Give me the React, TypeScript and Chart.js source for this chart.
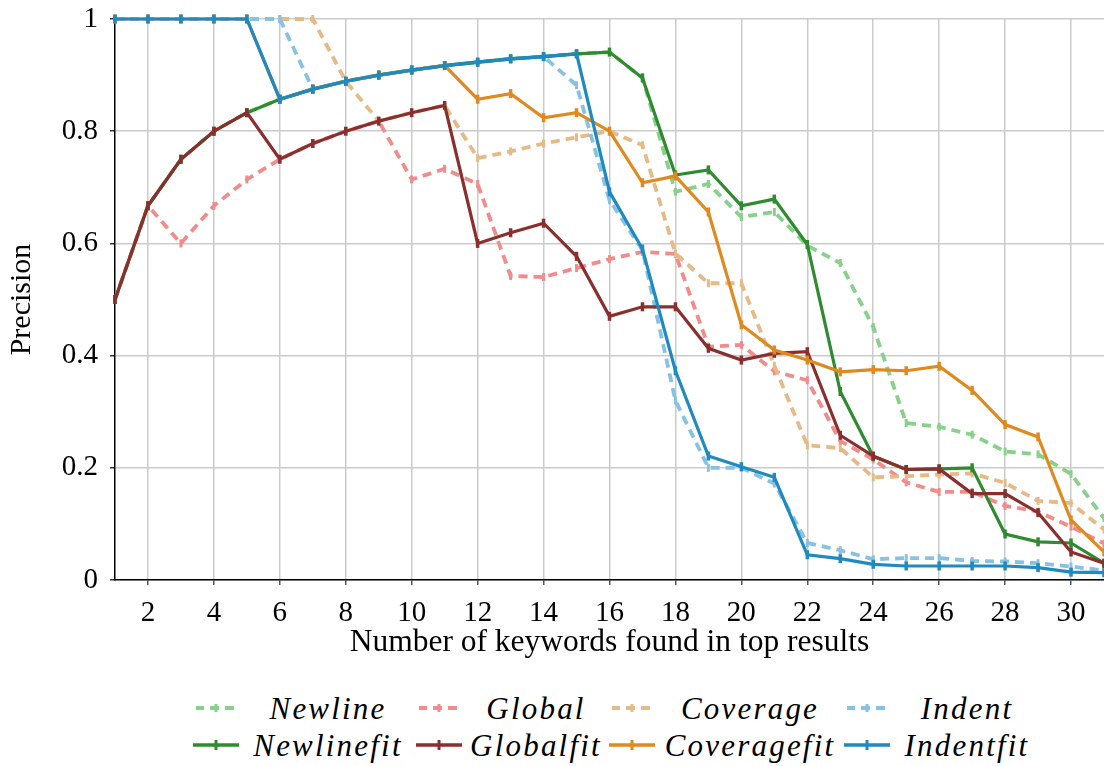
import React, { useEffect, useRef } from "react";
import { Chart, registerables } from "chart.js";

Chart.register(...registerables);

// Number of keywords found (x) and precision values for each method
const keywords = [1, 2, 3, 4, 5, 6, 7, 8, 9, 10, 11, 12, 13, 14, 15, 16, 17, 18, 19, 20, 21, 22, 23, 24, 25, 26, 27, 28, 29, 30, 31];
const xTicks = [2, 4, 6, 8, 10, 12, 14, 16, 18, 20, 22, 24, 26, 28, 30];
const yTicks = [0, 0.2, 0.4, 0.6, 0.8, 1];

const newline = [0.5, 0.667, 0.75, 0.8, 0.833, 0.857, 0.875, 0.889, 0.9, 0.909, 0.917, 0.923, 0.929, 0.933, 0.938, 0.941, 0.895, 0.692, 0.706, 0.647, 0.656, 0.596, 0.565, 0.451, 0.28, 0.273, 0.259, 0.229, 0.224, 0.189, 0.11];
const global = [0.5, 0.667, 0.6, 0.667, 0.714, 0.75, 0.778, 0.8, 0.818, 0.714, 0.733, 0.706, 0.542, 0.54, 0.556, 0.572, 0.585, 0.581, 0.416, 0.419, 0.372, 0.356, 0.248, 0.215, 0.174, 0.157, 0.157, 0.132, 0.122, 0.095, 0.065];
const coverage = [1, 1, 1, 1, 1, 1, 1, 0.889, 0.818, 0.833, 0.846, 0.752, 0.764, 0.778, 0.789, 0.8, 0.775, 0.582, 0.529, 0.529, 0.382, 0.24, 0.235, 0.183, 0.185, 0.188, 0.19, 0.173, 0.141, 0.137, 0.09];
const indent = [1, 1, 1, 1, 1, 1, 0.875, 0.889, 0.9, 0.909, 0.917, 0.923, 0.929, 0.933, 0.882, 0.677, 0.588, 0.32, 0.2, 0.2, 0.172, 0.066, 0.053, 0.037, 0.039, 0.039, 0.034, 0.033, 0.03, 0.024, 0.017];
const newlineFit = [0.5, 0.667, 0.75, 0.8, 0.833, 0.857, 0.875, 0.889, 0.9, 0.909, 0.917, 0.923, 0.929, 0.933, 0.938, 0.941, 0.895, 0.722, 0.731, 0.667, 0.679, 0.598, 0.336, 0.22, 0.197, 0.198, 0.2, 0.082, 0.068, 0.066, 0.03];
const globalFit = [0.5, 0.667, 0.75, 0.8, 0.833, 0.75, 0.778, 0.8, 0.818, 0.833, 0.846, 0.6, 0.619, 0.636, 0.577, 0.47, 0.487, 0.487, 0.413, 0.392, 0.404, 0.407, 0.258, 0.221, 0.197, 0.198, 0.154, 0.154, 0.12, 0.05, 0.03];
const coverageFit = [1, 1, 1, 1, 1, 0.857, 0.875, 0.889, 0.9, 0.909, 0.917, 0.857, 0.867, 0.824, 0.833, 0.8, 0.708, 0.72, 0.656, 0.455, 0.41, 0.392, 0.371, 0.375, 0.373, 0.381, 0.338, 0.277, 0.255, 0.107, 0.05];
const indentFit = [1, 1, 1, 1, 1, 0.857, 0.875, 0.889, 0.9, 0.909, 0.917, 0.923, 0.929, 0.933, 0.938, 0.692, 0.59, 0.373, 0.221, 0.202, 0.183, 0.045, 0.038, 0.028, 0.025, 0.025, 0.025, 0.025, 0.022, 0.014, 0.013];

const FONT = '"Liberation Serif", "Times New Roman", serif';
const GRID = "#cbcbcb";

type Series = { label: string; values: number[]; color: string; dashed: boolean };

// Drawn in this order: later series sit on top
const series: Series[] = [
  { label: "Newline", values: newline, color: "#88d18b", dashed: true },
  { label: "Global", values: global, color: "#f28b8b", dashed: true },
  { label: "Coverage", values: coverage, color: "#e5ba87", dashed: true },
  { label: "Indent", values: indent, color: "#88c2e2", dashed: true },
  { label: "Newlinefit", values: newlineFit, color: "#2e8b2f", dashed: false },
  { label: "Globalfit", values: globalFit, color: "#8a2e2e", dashed: false },
  { label: "Coveragefit", values: coverageFit, color: "#e0891f", dashed: false },
  { label: "Indentfit", values: indentFit, color: "#1f89c1", dashed: false },
];

// Legend layout: two rows of four entries
const sampleCenters = [216, 439, 632, 867];
const textCenters = [328, 536, 750, 967];
const rowCenters = [708, 745];

function LegendSample({ color, dashed }: { color: string; dashed: boolean }) {
  const w = dashed ? 40 : 46;
  return (
    <svg width={w} height={14} style={{ display: "block" }}>
      <line
        x1={0}
        y1={7}
        x2={w}
        y2={7}
        stroke={color}
        strokeWidth={dashed ? 4 : 3.5}
        strokeDasharray={dashed ? "9 6" : undefined}
        strokeDashoffset={dashed ? 1 : 0}
      />
      <line x1={w / 2} y1={dashed ? 3 : 2} x2={w / 2} y2={dashed ? 11 : 12} stroke={color} strokeWidth={3} />
    </svg>
  );
}

export default function App() {
  const canvasRef = useRef<HTMLCanvasElement | null>(null);

  useEffect(() => {
    const canvas = canvasRef.current;
    if (!canvas) return;
    const chart = new Chart(canvas, {
      type: "line",
      data: {
        datasets: series.map((s, i) => ({
          label: s.label,
          data: keywords.map((k, j) => ({ x: k, y: s.values[j] })),
          borderColor: s.color,
          backgroundColor: s.color,
          borderWidth: s.dashed ? 3.8 : 3.2,
          borderDash: s.dashed ? [9, 6] : [],
          borderCapStyle: "butt",
          pointStyle: "line",
          pointRotation: 90,
          pointRadius: s.dashed ? 4 : 4.5,
          pointBorderWidth: s.dashed ? 3 : 3.5,
          pointBorderColor: s.color,
          pointBackgroundColor: s.color,
          tension: 0,
          fill: false,
          clip: false,
          order: series.length - 1 - i,
        })),
      },
      options: {
        animation: false,
        responsive: false,
        events: [],
        layout: { autoPadding: false, padding: { top: 19, right: 0, bottom: 0, left: 0 } },
        plugins: {
          legend: { display: false },
          tooltip: { enabled: false },
        },
        scales: {
          x: {
            type: "linear",
            min: 1,
            max: 31,
            afterBuildTicks: (s: any) => {
              s.ticks = xTicks.map((v) => ({ value: v }));
            },
            afterFit: (s: any) => {
              s.height = 90;
              s.paddingLeft = 0;
              s.paddingRight = 0;
            },
            grid: { color: GRID, lineWidth: 1.5, drawTicks: true, tickLength: 5, tickColor: "#555" },
            border: { display: true, color: "#000", width: 1.5 },
            ticks: {
              color: "#000",
              font: { family: FONT, size: 29 },
              padding: 11,
              maxRotation: 0,
              autoSkip: false,
              callback: (v: any) => String(v),
            },
            title: {
              display: true,
              text: "Number of keywords found in top results",
              color: "#000",
              font: { family: FONT, size: 31.5 },
              padding: { top: 0, bottom: 8 },
            },
          },
          y: {
            type: "linear",
            min: 0,
            max: 1,
            afterBuildTicks: (s: any) => {
              s.ticks = yTicks.map((v) => ({ value: v }));
            },
            afterFit: (s: any) => {
              s.width = 115;
              s.paddingTop = 0;
              s.paddingBottom = 0;
            },
            grid: { color: GRID, lineWidth: 1.5, drawTicks: true, tickLength: 5, tickColor: "#333" },
            border: { display: true, color: "#000", width: 1.5 },
            ticks: {
              color: "#000",
              font: { family: FONT, size: 29 },
              padding: 12,
              callback: (v: any) => String(v),
            },
            title: {
              display: true,
              text: "Precision",
              color: "#000",
              font: { family: FONT, size: 30 },
              padding: { top: 4, bottom: 0 },
            },
          },
        },
      },
    });
    return () => chart.destroy();
  }, []);

  return (
    <div style={{ position: "absolute", left: 0, top: 0, width: 1104, height: 766, background: "#fff", overflow: "hidden" }}>
      <canvas ref={canvasRef} width={1104} height={670} style={{ display: "block" }} />
      {series.map((s, i) => {
        const row = s.dashed ? 0 : 1;
        const col = i % 4;
        const cy = rowCenters[row];
        return (
          <React.Fragment key={s.label}>
            <div
              style={{
                position: "absolute",
                left: sampleCenters[col],
                top: cy,
                transform: "translate(-50%, -50%)",
              }}
            >
              <LegendSample color={s.color} dashed={s.dashed} />
            </div>
            <div
              style={{
                position: "absolute",
                left: textCenters[col],
                top: cy,
                transform: "translate(-50%, -50%)",
                fontFamily: FONT,
                fontStyle: "italic",
                fontSize: 31,
                letterSpacing: 2.2,
                lineHeight: 1,
                whiteSpace: "nowrap",
                color: "#000",
              }}
            >
              {s.label}
            </div>
          </React.Fragment>
        );
      })}
    </div>
  );
}
